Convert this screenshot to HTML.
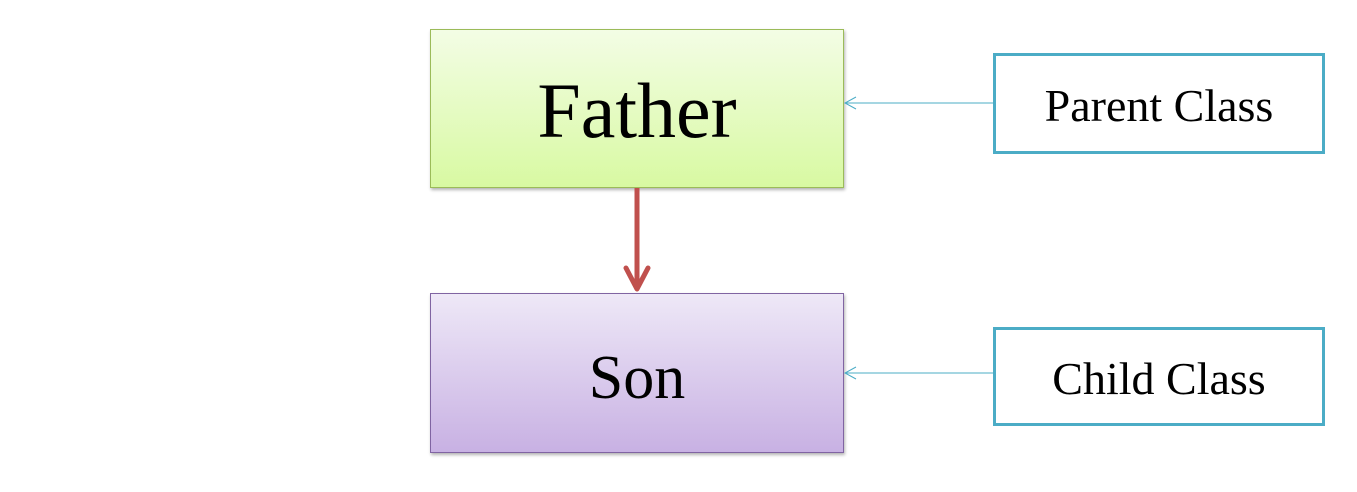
<!DOCTYPE html>
<html><head><style>
body{margin:0;width:1357px;height:492px;background:#fff;position:relative;overflow:hidden;font-family:"Liberation Serif",serif}
.b{position:absolute;box-sizing:border-box;display:flex;align-items:center;justify-content:center;color:#000}
</style></head><body>
<div class="b" style="left:430px;top:29px;width:414px;height:159px;border:1px solid #9bbb59;background:linear-gradient(#f3fde5,#d8f9a2);box-shadow:1px 2px 3px rgba(0,0,0,.3);font-size:78px;padding-top:4px">Father</div>
<div class="b" style="left:430px;top:293px;width:414px;height:160px;border:1px solid #8064a2;background:linear-gradient(#eee8f7,#c8b1e3);box-shadow:1px 2px 3px rgba(0,0,0,.3);font-size:62px;padding-top:10px">Son</div>
<div class="b" style="left:993px;top:53px;width:332px;height:101px;border:3px solid #4bacc6;font-size:46px;padding-top:3px">Parent Class</div>
<div class="b" style="left:993px;top:327px;width:332px;height:99px;border:3px solid #4bacc6;font-size:46px;padding-top:3px">Child Class</div>
<svg width="1357" height="492" style="position:absolute;left:0;top:0">
<line x1="637" y1="188" x2="637" y2="288" stroke="#c0504d" stroke-width="5"/>
<polyline points="626,268 637,289 648,268" fill="none" stroke="#c0504d" stroke-width="5" stroke-linecap="round" stroke-linejoin="round"/>
<line x1="845" y1="103" x2="993" y2="103" stroke="#4bacc6" stroke-width="1"/>
<polyline points="856,97 845,103 856,109" fill="none" stroke="#4bacc6" stroke-width="1"/>
<line x1="845" y1="373" x2="993" y2="373" stroke="#4bacc6" stroke-width="1"/>
<polyline points="856,367 845,373 856,379" fill="none" stroke="#4bacc6" stroke-width="1"/>
</svg>
</body></html>
